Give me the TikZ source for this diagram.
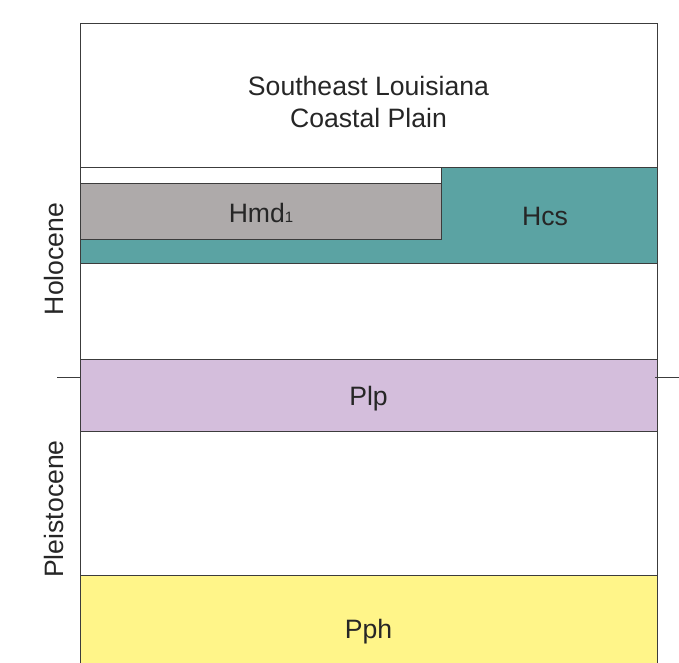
\documentclass[tikz,border=0pt]{standalone}
\usepackage{fontspec}
\setmainfont{Liberation Sans}
\definecolor{tealc}{HTML}{5BA3A3}
\definecolor{grayc}{HTML}{AEAAAA}
\definecolor{purplec}{HTML}{D4BEDC}
\definecolor{yellowc}{HTML}{FFF589}
\definecolor{linec}{HTML}{3C3C3C}
\begin{document}
\begin{tikzpicture}[x=1pt,y=-1pt,
  unit/.style={draw=linec,line width=1pt},
  lbl/.style={font=\fontsize{26.6}{32}\selectfont,text=black!85,inner sep=0pt,align=center},
  tick/.style={draw=linec,line width=1pt}]
\useasboundingbox (0,0) rectangle (679,662);
\fill[white] (0,0) rectangle (679,662);
% layers
\filldraw[unit,fill=tealc] (80,167) rectangle (657,263);
\filldraw[unit,fill=white] (80,167) rectangle (441,183);
\filldraw[unit,fill=grayc] (80,183) rectangle (441,239);
\filldraw[unit,fill=purplec] (80,359) rectangle (657,431);
\filldraw[unit,fill=yellowc] (80,575) rectangle (657,665);
% frame
\draw[unit] (80,665) -- (80,23) -- (657,23) -- (657,665);
% ticks
\coordinate (tl1) at (57,377); \coordinate (tl2) at (80,377);
\coordinate (tr1) at (655,377); \coordinate (tr2) at (679,377);
\draw[tick] (tl1) -- (tl2);
\draw[tick] (tr1) -- (tr2);
% labels
\node[lbl] (title) at (368.5,102) {Southeast Louisiana\\Coastal Plain};
\node[lbl] (hmd) at (261,213) {Hmd\raisebox{-0.5pt}{\fontsize{15}{15}\selectfont 1}};
\node[lbl] (hcs) at (545,216) {Hcs};
\node[lbl] (plp) at (368.5,399) {Plp};
\node[lbl] (pph) at (368.5,632) {Pph};
\node[lbl,rotate=90] (holo) at (54,259) {Holocene};
\node[lbl,rotate=90] (pleis) at (54,509) {Pleistocene};
\end{tikzpicture}
\end{document}
